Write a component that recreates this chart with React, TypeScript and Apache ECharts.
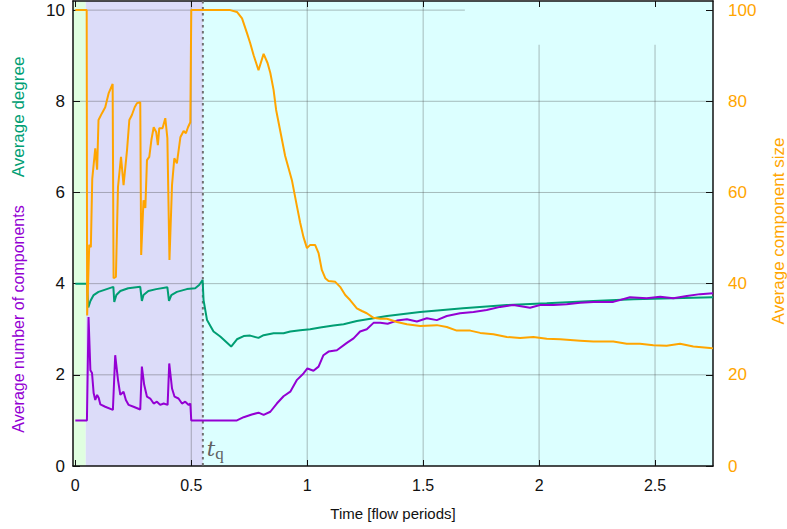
import React, { useEffect, useRef } from "react";
import * as echarts from "echarts";

// Average component size [right axis, 0-100] vs time in flow periods
const componentSize: [number, number][] = [
  [0, 100], [0.049, 100], [0.051, 33], [0.06, 48.5], [0.067, 48], [0.073, 63], [0.086, 69.7],
  [0.094, 65], [0.1, 75.9], [0.115, 77.4], [0.129, 78.7], [0.144, 81.8], [0.161, 83.8],
  [0.165, 41.2], [0.175, 41.5], [0.184, 61.2], [0.197, 67.8], [0.208, 61.6], [0.223, 69.3],
  [0.233, 75.9], [0.244, 77], [0.256, 78.7], [0.266, 79.6], [0.28, 79.8], [0.284, 46.3],
  [0.294, 58.3], [0.302, 56.6], [0.309, 67.1], [0.319, 67.8], [0.328, 71.5], [0.338, 74.3],
  [0.349, 73.2], [0.356, 70.4], [0.362, 74.1], [0.376, 74.1], [0.388, 76.3], [0.397, 71.9],
  [0.406, 45.2], [0.417, 61.6], [0.427, 67.5], [0.438, 66.4], [0.453, 72.1], [0.467, 73.5],
  [0.477, 73], [0.486, 74.3], [0.496, 75.4], [0.5, 100], [0.668, 100], [0.697, 99.6],
  [0.719, 98.2], [0.74, 95], [0.754, 92.8], [0.769, 90.1], [0.79, 86.8], [0.812, 90.4],
  [0.829, 88.4], [0.841, 86.2], [0.855, 82.5], [0.866, 78.1], [0.905, 68], [0.934, 62.7],
  [0.956, 56.9], [0.97, 53.3], [0.984, 50.2], [0.999, 47.8], [1.013, 48.5], [1.034, 48.5],
  [1.049, 46.7], [1.063, 43], [1.078, 41.2], [1.092, 40.6], [1.121, 40.4], [1.142, 39.3],
  [1.164, 37.5], [1.185, 36.4], [1.214, 34.6], [1.236, 34], [1.257, 33.5], [1.286, 32.5],
  [1.315, 32.3], [1.344, 32.3], [1.387, 31.6], [1.43, 31.1], [1.487, 30.7], [1.559, 30.9],
  [1.602, 30.5], [1.645, 29.7], [1.703, 29.7], [1.746, 29.2], [1.803, 28.9], [1.861, 28.3],
  [1.918, 28.1], [1.975, 28.3], [2.033, 27.9], [2.091, 27.8], [2.177, 27.5], [2.234, 27.3],
  [2.32, 27.3], [2.378, 26.8], [2.435, 26.8], [2.493, 26.5], [2.55, 26.4], [2.608, 26.8],
  [2.665, 26.2], [2.737, 25.9], [2.75, 25.8],
];

// Average degree [left axis]
const averageDegree: [number, number][] = [
  [0, 4.0], [0.05, 4.0], [0.056, 3.48], [0.065, 3.62], [0.079, 3.75], [0.1, 3.82], [0.129, 3.87],
  [0.164, 3.93], [0.168, 3.6], [0.177, 3.75], [0.194, 3.84], [0.228, 3.9], [0.28, 3.93],
  [0.287, 3.62], [0.294, 3.75], [0.315, 3.84], [0.349, 3.88], [0.397, 3.92], [0.404, 3.62],
  [0.414, 3.75], [0.438, 3.82], [0.481, 3.88], [0.517, 3.9], [0.534, 3.97], [0.549, 4.08],
  [0.553, 3.64], [0.568, 3.2], [0.596, 2.95], [0.625, 2.84], [0.672, 2.62], [0.697, 2.78],
  [0.726, 2.85], [0.754, 2.86], [0.79, 2.81], [0.812, 2.87], [0.855, 2.91], [0.898, 2.91],
  [0.927, 2.95], [0.97, 2.98], [1.013, 3.0], [1.056, 3.04], [1.113, 3.08], [1.157, 3.11],
  [1.214, 3.18], [1.286, 3.24], [1.344, 3.29], [1.487, 3.38], [1.672, 3.46], [1.861, 3.53],
  [2.033, 3.57], [2.234, 3.62], [2.407, 3.66], [2.579, 3.68], [2.75, 3.7],
];

// Average number of components [left axis]
const componentCount: [number, number][] = [
  [0, 1], [0.05, 1], [0.057, 3.27], [0.065, 2.1], [0.072, 2.04], [0.079, 1.6], [0.086, 1.45],
  [0.094, 1.56], [0.101, 1.49], [0.108, 1.35], [0.129, 1.3], [0.162, 1.23], [0.172, 2.43],
  [0.184, 1.89], [0.194, 1.56], [0.208, 1.63], [0.218, 1.45], [0.23, 1.34], [0.251, 1.3],
  [0.28, 1.24], [0.287, 2.18], [0.297, 1.78], [0.309, 1.52], [0.323, 1.48], [0.338, 1.37],
  [0.352, 1.41], [0.366, 1.34], [0.381, 1.37], [0.398, 1.34], [0.405, 2.25], [0.417, 1.7],
  [0.428, 1.52], [0.445, 1.48], [0.46, 1.37], [0.474, 1.41], [0.489, 1.34], [0.496, 1.37],
  [0.5, 1.0], [0.697, 1.0], [0.726, 1.07], [0.761, 1.13], [0.79, 1.17], [0.812, 1.12],
  [0.841, 1.19], [0.869, 1.37], [0.898, 1.53], [0.927, 1.63], [0.956, 1.89], [0.984, 2.03],
  [1.001, 2.14], [1.027, 2.09], [1.049, 2.18], [1.07, 2.43], [1.092, 2.51], [1.128, 2.54],
  [1.171, 2.7], [1.2, 2.8], [1.228, 2.95], [1.257, 3.0], [1.286, 3.14], [1.315, 3.14],
  [1.347, 3.12], [1.387, 3.19], [1.43, 3.22], [1.473, 3.17], [1.516, 3.24], [1.559, 3.2],
  [1.602, 3.29], [1.659, 3.35], [1.717, 3.38], [1.774, 3.42], [1.832, 3.49], [1.889, 3.53],
  [1.961, 3.47], [2.004, 3.53], [2.062, 3.53], [2.119, 3.55], [2.177, 3.58], [2.234, 3.6],
  [2.32, 3.6], [2.392, 3.7], [2.464, 3.68], [2.522, 3.71], [2.579, 3.68], [2.637, 3.73],
  [2.694, 3.77], [2.75, 3.79],
];

const timeTicks = [0, 0.5, 1, 1.5, 2, 2.5];
const degreeTicks = [0, 2, 4, 6, 8, 10];
const sizeTicks = [0, 20, 40, 60, 80, 100];

// phase boundaries in flow periods: start-up, compression, after quench
const phaseEdges = [-0.01, 0.045, 0.55, 2.75];
const quenchTime = 0.55;

const T_MIN = -0.01;
const T_MAX = 2.75;
const LEFT_MAX = 10.2;
const RIGHT_MAX = 102;

const PURPLE = "#9400d3";
const GREEN = "#009e73";
const ORANGE = "#ffa500";
const PHASE_COLORS = ["#e0ffe0", "#dcdcf9", "#dcffff"];
const GRID_COLOR = "rgba(60,60,60,0.35)";
const FONT = "Liberation Sans, Arial, sans-serif";

export default function App() {
  const ref = useRef<HTMLDivElement>(null);

  useEffect(() => {
    if (!ref.current) return;
    const chart = echarts.init(ref.current, null, { renderer: "svg" });

    const lineSeries = (name: string, data: [number, number][], color: string, yAxisIndex: number, z: number) => ({
      name,
      type: "line",
      data,
      yAxisIndex,
      xAxisIndex: 0,
      showSymbol: false,
      symbol: "none",
      silent: true,
      z,
      lineStyle: { color, width: 2 },
      itemStyle: { color },
    });

    const axisLine = { show: true, onZero: false, lineStyle: { color: "#111", width: 1.5 } };

    chart.setOption({
      animation: false,
      grid: { left: 73, right: 74, top: 1, bottom: 63, containLabel: false },
      xAxis: [
        {
          type: "value",
          position: "bottom",
          min: T_MIN,
          max: T_MAX,
          axisLine,
          axisTick: { show: true, inside: true, length: 6, customValues: timeTicks, lineStyle: { color: "#111" } },
          axisLabel: { customValues: timeTicks, color: "#111", fontSize: 16, fontFamily: FONT, margin: 11 },
          splitLine: { show: false },
          name: "Time [flow periods]",
          nameLocation: "middle",
          nameGap: 40,
          nameTextStyle: { color: "#111", fontSize: 15, fontFamily: FONT },
        },
        {
          type: "value",
          position: "top",
          min: T_MIN,
          max: T_MAX,
          axisLine,
          axisTick: { show: true, inside: true, length: 6, customValues: timeTicks, lineStyle: { color: "#111" } },
          axisLabel: { show: false },
          splitLine: { show: false },
        },
      ],
      yAxis: [
        {
          type: "value",
          position: "left",
          min: 0,
          max: LEFT_MAX,
          axisLine,
          axisTick: { show: true, inside: true, length: 7, customValues: degreeTicks, lineStyle: { color: "#111" } },
          axisLabel: { customValues: degreeTicks, color: "#111", fontSize: 17, fontFamily: FONT, margin: 8 },
          splitLine: { show: false },
        },
        {
          type: "value",
          position: "right",
          min: 0,
          max: RIGHT_MAX,
          axisLine,
          axisTick: { show: true, inside: true, length: 7, customValues: sizeTicks, lineStyle: { color: "#111" } },
          axisLabel: { customValues: sizeTicks, color: ORANGE, fontSize: 17, fontFamily: FONT, margin: 15 },
          splitLine: { show: false },
        },
      ],
      series: [
        lineSeries("Average degree", averageDegree, GREEN, 0, 2),
        lineSeries("Average number of components", componentCount, PURPLE, 0, 3),
        lineSeries("Average component size", componentSize, ORANGE, 1, 4),
      ],
    });

    // backgrounds, grid and the quench marker, placed through the axes' own scales
    const px = (t: number) => chart.convertToPixel({ xAxisIndex: 0 }, t) as number;
    const py = (v: number) => chart.convertToPixel({ yAxisIndex: 0 }, v) as number;
    const top = py(LEFT_MAX);
    const bottom = py(0);
    const keyLeft = px(1.68);
    const keyBottom = py(9.24);

    const elements: any[] = [];
    for (let i = 0; i < phaseEdges.length - 1; i++) {
      const x0 = px(phaseEdges[i]);
      const x1 = px(phaseEdges[i + 1]);
      elements.push({
        type: "rect",
        z: -10,
        silent: true,
        shape: { x: x0, y: top, width: x1 - x0, height: bottom - top },
        style: { fill: PHASE_COLORS[i] },
      });
    }
    timeTicks.filter((t) => t > 0).forEach((t) => {
      const x = px(t);
      elements.push({
        type: "line",
        z: -5,
        silent: true,
        shape: { x1: x, y1: x > keyLeft ? keyBottom : top, x2: x, y2: bottom },
        style: { stroke: GRID_COLOR, lineWidth: 1 },
      });
    });
    degreeTicks.filter((v) => v > 0).forEach((v) => {
      const y = py(v);
      elements.push({
        type: "line",
        z: -5,
        silent: true,
        shape: { x1: px(T_MIN), y1: y, x2: y < keyBottom ? keyLeft : px(T_MAX), y2: y },
        style: { stroke: GRID_COLOR, lineWidth: 1 },
      });
    });
    const xq = px(quenchTime);
    elements.push({
      type: "line",
      z: 1,
      silent: true,
      shape: { x1: xq, y1: top, x2: xq, y2: bottom },
      style: { stroke: "#707070", lineWidth: 2, lineDash: [2.5, 3.5] },
    });
    elements.push({
      type: "text",
      z: 6,
      silent: true,
      x: xq + 4,
      y: bottom - 4,
      style: {
        text: "{t|t}{q|q}",
        verticalAlign: "bottom",
        rich: {
          t: { fontFamily: "DejaVu Serif, Liberation Serif, serif", fontStyle: "italic", fontSize: 21, fill: "#606060", color: "#606060" },
          q: { fontFamily: "Liberation Serif, DejaVu Serif, serif", fontSize: 17, fill: "#606060", color: "#606060", padding: [10, 0, 0, 0] },
        },
      },
    });
    // axis titles
    elements.push({
      type: "text",
      silent: true,
      x: 18,
      y: 117,
      rotation: Math.PI / 2,
      style: { text: "Average degree", fill: GREEN, fontSize: 17, fontFamily: FONT, align: "center", verticalAlign: "middle" },
    });
    elements.push({
      type: "text",
      silent: true,
      x: 18,
      y: 319,
      rotation: Math.PI / 2,
      style: { text: "Average number of components", fill: PURPLE, fontSize: 16, fontFamily: FONT, align: "center", verticalAlign: "middle" },
    });
    elements.push({
      type: "text",
      silent: true,
      x: 778,
      y: 231,
      rotation: Math.PI / 2,
      style: { text: "Average component size", fill: ORANGE, fontSize: 17, fontFamily: FONT, align: "center", verticalAlign: "middle" },
    });

    chart.setOption({ graphic: { elements } });

    return () => chart.dispose();
  }, []);

  return <div ref={ref} style={{ width: 787, height: 529, position: "absolute", left: 0, top: 0 }} />;
}
